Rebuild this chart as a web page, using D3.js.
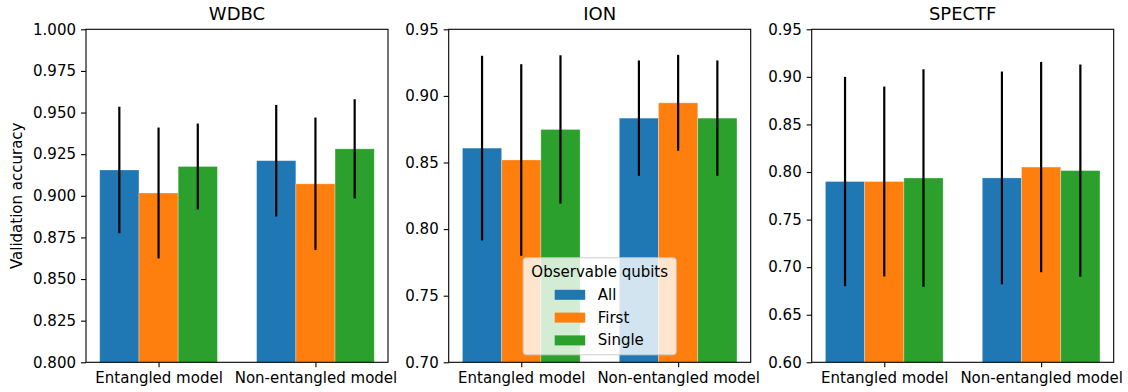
<!DOCTYPE html>
<html>
<head>
<meta charset="utf-8">
<script src="https://cdn.jsdelivr.net/npm/d3@7"></script>
<style>
    html, body { margin: 0; padding: 0; background: #ffffff; }
    svg { display: block; font-family: "DejaVu Sans", sans-serif; }
</style>
</head>
<body>
<svg id="sketchbook"></svg>
<script>
// categories / series
const categories = ['Entangled model', 'Non-entangled model'];
const seriesNames = ['All', 'First', 'Single'];
const seriesColors = ['#1f77b4', '#ff7f0e', '#2ca02c'];

// mean accuracy, rows = All, First, Single ; cols = categories
const wdbcMean   = [[0.9155, 0.9211], [0.9017, 0.9072], [0.9176, 0.9282]];
const wdbcStd    = [[0.0380, 0.0335], [0.0393, 0.0398], [0.0258, 0.0298]];
const ionMean    = [[0.8608, 0.8833], [0.8519, 0.8948], [0.8748, 0.8833]];
const ionStd     = [[0.0693, 0.0433], [0.0719, 0.0360], [0.0557, 0.0433]];
const spectfMean = [[0.7900, 0.7938], [0.7900, 0.8052], [0.7937, 0.8015]];
const spectfStd  = [[0.1100, 0.1118], [0.0998, 0.1105], [0.1143, 0.1115]];

// tick labels
const wdbcTicks   = [0.800, 0.825, 0.850, 0.875, 0.900, 0.925, 0.950, 0.975, 1.000];
const ionTicks    = [0.70, 0.75, 0.80, 0.85, 0.90, 0.95];
const spectfTicks = [0.60, 0.65, 0.70, 0.75, 0.80, 0.85, 0.90, 0.95];

class BarSketcher {
    constructor(options) {
        this._options = options;
        this._svg = d3.select(options.selector)
            .attr('width', options.w)
            .attr('height', options.h);
    }
    /*
     * one subplot: grouped bars + error bars
     */
    drawPanel (p) {
        let o = this._options;
        let g = this._svg.append('g')
            .attr('transform', 'translate(' + p.left + ',' + o.top + ')');
        let w = o.pw;
        let h = o.bottom - o.top;

        let barW = 0.25;
        let x = d3.scaleLinear().domain([-0.4625, 1.4625]).range([0, w]);
        let y = d3.scaleLinear().domain(p.domain).range([h, 0]);

        let data = [];
        p.mean.forEach((row, si) => {
            row.forEach((v, ci) => {
                data.push({ s: si, c: ci, v: v, e: p.std[si][ci],
                            xc: ci + (si - 1) * barW });
            });
        });

        g.selectAll('rect.bar')
            .data(data)
            .enter()
            .append('rect')
            .attr('class', 'bar')
            .attr('x', (d) => { return x(d.xc - barW / 2); })
            .attr('y', (d) => { return y(d.v); })
            .attr('width', (d) => { return x(barW) - x(0); })
            .attr('height', (d) => { return h - y(d.v); })
            .attr('fill', (d) => { return seriesColors[d.s]; })
            .attr('stroke', '#ffffff')
            .attr('stroke-opacity', 0.35)
            .attr('stroke-width', 0.8);

        g.selectAll('line.err')
            .data(data)
            .enter()
            .append('line')
            .attr('class', 'err')
            .attr('x1', (d) => { return x(d.xc); })
            .attr('x2', (d) => { return x(d.xc); })
            .attr('y1', (d) => { return y(d.v - d.e); })
            .attr('y2', (d) => { return y(d.v + d.e); })
            .attr('stroke', '#000000')
            .attr('stroke-width', 2.2);

        // axes
        let yAxis = d3.axisLeft(y)
            .tickValues(p.ticks)
            .tickFormat(d3.format(p.fmt))
            .tickSize(5)
            .tickPadding(5);
        let xAxis = d3.axisBottom(x)
            .tickValues([0, 1])
            .tickFormat((d) => { return categories[d]; })
            .tickSize(5)
            .tickPadding(5);

        let ya = g.append('g').call(yAxis);
        let xa = g.append('g').attr('transform', 'translate(0,' + h + ')').call(xAxis);
        [ya, xa].forEach((a) => {
            a.select('.domain').remove();
            a.selectAll('text')
                .attr('font-family', '"DejaVu Sans", sans-serif')
                .attr('font-size', o.fs)
                .attr('fill', '#000000');
            a.selectAll('line').attr('stroke', '#000000').attr('stroke-width', 1.1);
        });

        // frame
        g.append('rect')
            .attr('x', 0).attr('y', 0)
            .attr('width', w).attr('height', h)
            .attr('fill', 'none')
            .attr('stroke', '#000000')
            .attr('stroke-width', 1.1);

        g.append('text')
            .attr('x', w / 2)
            .attr('y', -9)
            .attr('text-anchor', 'middle')
            .attr('font-size', o.fs * 1.2)
            .text(p.title);

        if (p.ylabel) {
            g.append('text')
                .attr('transform', 'translate(' + (-p.left + 22) + ',' + (h / 2) + ') rotate(-90)')
                .attr('text-anchor', 'middle')
                .attr('font-size', o.fs)
                .text(p.ylabel);
        }
        if (p.legend)
            this.drawLegend(g, w, h);
    }
    drawLegend (g, w, h) {
        let o = this._options;
        let lw = 153, lh = 97;
        let lg = g.append('g')
            .attr('transform', 'translate(' + (w / 2 - lw / 2) + ',' + (h - 7.5 - lh) + ')');

        lg.append('rect')
            .attr('width', lw).attr('height', lh)
            .attr('rx', 3).attr('ry', 3)
            .attr('fill', '#ffffff')
            .attr('fill-opacity', 0.8)
            .attr('stroke', '#cccccc')
            .attr('stroke-width', 1);

        lg.append('text')
            .attr('x', lw / 2)
            .attr('y', 19)
            .attr('text-anchor', 'middle')
            .attr('font-size', o.fs)
            .text('Observable qubits');

        let items = lg.selectAll('g.item')
            .data(seriesNames)
            .enter()
            .append('g')
            .attr('class', 'item')
            .attr('transform', (d, i) => { return 'translate(31.5,' + (32 + i * 22.8) + ')'; });
        items.append('rect')
            .attr('width', 30.5).attr('height', 10)
            .attr('fill', (d, i) => { return seriesColors[i]; });
        items.append('text')
            .attr('x', 43)
            .attr('y', 10)
            .attr('font-size', o.fs)
            .text((d) => { return d; });
    }
}

let sk = new BarSketcher({
    selector: '#sketchbook',
    w: 1128, h: 392,
    top: 29.3, bottom: 362.3, pw: 302,
    fs: 15
});

sk.drawPanel({ left: 86,    title: 'WDBC',   mean: wdbcMean,   std: wdbcStd,
               domain: [0.8, 1.0],  ticks: wdbcTicks,   fmt: '.3f', ylabel: 'Validation accuracy' });
sk.drawPanel({ left: 448.7, title: 'ION',    mean: ionMean,    std: ionStd,
               domain: [0.7, 0.95], ticks: ionTicks,    fmt: '.2f', legend: true });
sk.drawPanel({ left: 811.7, title: 'SPECTF', mean: spectfMean, std: spectfStd,
               domain: [0.6, 0.95], ticks: spectfTicks, fmt: '.2f' });
</script>
</body>
</html>
